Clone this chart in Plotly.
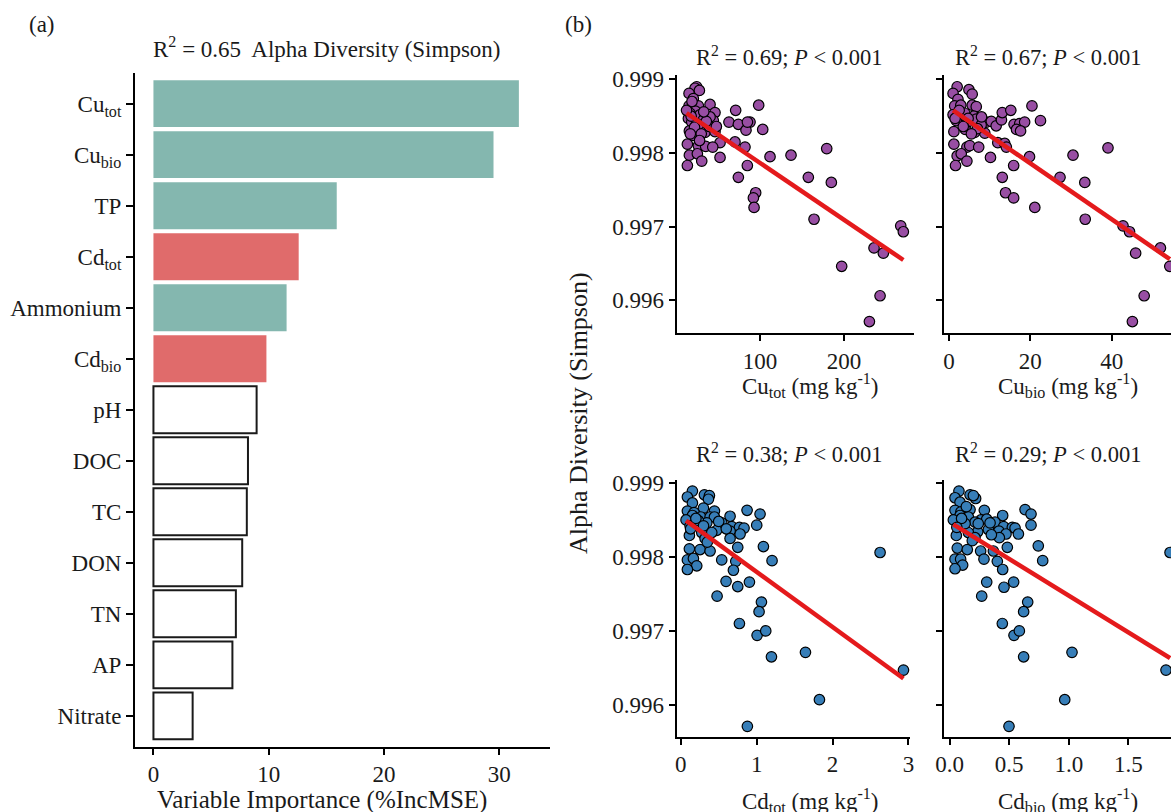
import numpy as np
import plotly.graph_objects as go

W, H = 1171, 812
FONT = "Liberation Serif"

# ---------------- (a) variable importance ----------------
variables = ["Cu<sub>tot</sub>", "Cu<sub>bio</sub>", "TP", "Cd<sub>tot</sub>", "Ammonium",
             "Cd<sub>bio</sub>", "pH", "DOC", "TC", "DON", "TN", "AP", "Nitrate"]
importance = [31.7, 29.5, 15.9, 12.6, 11.55, 9.8, 8.95, 8.2, 8.1, 7.7, 7.15, 6.85, 3.4]
groups = ["Cu", "Cu", "Cu", "Cd", "Cu", "Cd", "ns", "ns", "ns", "ns", "ns", "ns", "ns"]
group_fill = {"Cu": "#84B7AF", "Cd": "#E06B6B", "ns": "#FFFFFF"}
imp_ticks = [0, 10, 20, 30]

# ---------------- (b) scatter panels ----------------
cu_tot_x = [24.6, 22.6, 27.8, 15.5, 20.6, 15.5, 26.6, 40.5, 23.0, 16.7,
            28.6, 46.4, 14.7, 18.7, 32.5, 44.4, 24.6, 32.5, 15.9, 26.6,
            34.5, 46.4, 52.4, 13.5, 26.6, 35.3, 43.7, 15.9, 25.4, 30.6,
            13.5, 52.4, 20.6, 39.7, 71.0, 98.4, 63.0, 74.2, 88.1, 83.3,
            103.2, 70.2, 82.1, 111.9, 136.9, 179.4, 84.9, 74.2, 157.5, 184.9,
            94.8, 92.1, 92.9, 164.3, 267.5, 270.6, 235.7, 246.8, 197.2, 242.9,
            230.2, 40.5, 85.0, 18.0, 22.0, 30.0, 36.0, 12.5, 19.0, 33.0,
            28.0, 48.0, 17.0]
cu_tot_y = [0.99890, 0.99888, 0.99885, 0.99881, 0.99874, 0.99864, 0.99864, 0.99866, 0.99857, 0.99854,
            0.99852, 0.99855, 0.99847, 0.99842, 0.99845, 0.99844, 0.99840, 0.99838, 0.99830, 0.99833,
            0.99828, 0.99829, 0.99814, 0.99812, 0.99810, 0.99809, 0.99808, 0.99797, 0.99799, 0.99789,
            0.99783, 0.99794, 0.99824, 0.99836, 0.99858, 0.99865, 0.99842, 0.99839, 0.99842, 0.99831,
            0.99832, 0.99815, 0.99808, 0.99795, 0.99797, 0.99806, 0.99783, 0.99767, 0.99767, 0.99760,
            0.99746, 0.99739, 0.99726, 0.99710, 0.99701, 0.99693, 0.99671, 0.99664, 0.99646, 0.99606,
            0.99571, 0.99849, 0.99842, 0.99850, 0.99835, 0.99826, 0.99843, 0.99858, 0.99870, 0.99856,
            0.99817, 0.99836, 0.99826]

cu_bio_x = [2.0, 1.0, 4.9, 5.7, 2.2, 1.4, 2.9, 5.7, 6.7, 1.0,
            3.9, 6.1, 1.8, 4.3, 6.7, 1.2, 4.0, 6.3, 8.8, 9.2,
            10.4, 11.6, 12.9, 13.1, 15.2, 20.4, 22.5, 16.0, 17.4, 18.6,
            16.6, 17.6, 1.2, 4.4, 5.1, 7.3, 12.0, 13.7, 14.1, 2.0,
            3.0, 4.4, 1.6, 10.2, 19.8, 15.9, 13.1, 13.9, 15.9, 21.1,
            27.3, 30.5, 33.4, 39.1, 33.5, 42.8, 44.4, 45.9, 52.0, 54.3,
            48.0, 45.1, 4.7, 7.9, 2.5, 3.5, 1.5, 7.0, 5.5, 8.0]
cu_bio_y = [0.99890, 0.99881, 0.99886, 0.99880, 0.99873, 0.99864, 0.99865, 0.99865, 0.99863, 0.99852,
            0.99854, 0.99850, 0.99844, 0.99840, 0.99846, 0.99829, 0.99832, 0.99828, 0.99827, 0.99842,
            0.99843, 0.99837, 0.99845, 0.99855, 0.99858, 0.99864, 0.99844, 0.99839, 0.99840, 0.99842,
            0.99832, 0.99830, 0.99812, 0.99808, 0.99810, 0.99808, 0.99814, 0.99813, 0.99808, 0.99796,
            0.99799, 0.99789, 0.99783, 0.99794, 0.99795, 0.99783, 0.99767, 0.99746, 0.99739, 0.99726,
            0.99767, 0.99797, 0.99760, 0.99807, 0.99710, 0.99701, 0.99693, 0.99664, 0.99671, 0.99646,
            0.99606, 0.99571, 0.99847, 0.99838, 0.99858, 0.99836, 0.99847, 0.99833, 0.99826, 0.99849]

cd_tot_x = [0.154, 0.088, 0.312, 0.378, 0.365, 0.154, 0.299, 0.088, 0.176, 0.444,
            0.154, 0.264, 0.070, 0.387, 0.444, 0.650, 0.874, 1.045, 0.540, 0.343,
            0.123, 0.672, 0.773, 0.834, 1.001, 0.474, 0.277, 0.782, 0.650, 0.114,
            0.321, 0.650, 0.751, 1.089, 0.114, 0.255, 0.387, 0.540, 0.725, 0.088,
            0.167, 0.211, 0.088, 0.694, 1.203, 2.626, 0.597, 0.751, 0.905, 0.479,
            1.063, 1.032, 0.773, 1.006, 1.120, 1.195, 1.643, 1.827, 0.878, 2.934,
            0.233, 0.409, 0.20, 0.13, 0.30, 0.50, 0.60, 0.35]
cd_tot_y = [0.99889, 0.99881, 0.99884, 0.99883, 0.99878, 0.99873, 0.99866, 0.99862, 0.99860, 0.99862,
            0.99856, 0.99854, 0.99850, 0.99854, 0.99854, 0.99855, 0.99863, 0.99858, 0.99846, 0.99846,
            0.99842, 0.99841, 0.99840, 0.99839, 0.99843, 0.99836, 0.99833, 0.99831, 0.99835, 0.99829,
            0.99825, 0.99825, 0.99813, 0.99814, 0.99811, 0.99810, 0.99808, 0.99796, 0.99794, 0.99796,
            0.99798, 0.99788, 0.99783, 0.99782, 0.99795, 0.99806, 0.99767, 0.99760, 0.99766, 0.99747,
            0.99739, 0.99726, 0.99710, 0.99694, 0.99700, 0.99665, 0.99671, 0.99607, 0.99571, 0.99647,
            0.99849, 0.99833, 0.99852, 0.99838, 0.99842, 0.99848, 0.99838, 0.99820]

cd_bio_x = [0.078, 0.045, 0.171, 0.218, 0.199, 0.087, 0.171, 0.045, 0.095, 0.291,
            0.633, 0.683, 0.445, 0.087, 0.157, 0.031, 0.263, 0.311, 0.381, 0.213,
            0.453, 0.526, 0.549, 0.683, 0.325, 0.414, 0.473, 0.577, 0.235, 0.157,
            0.056, 0.213, 0.417, 0.484, 0.744, 0.064, 0.148, 0.260, 0.367, 0.288,
            0.400, 0.781, 0.045, 0.092, 0.109, 0.045, 0.445, 0.311, 0.537, 0.456,
            0.269, 0.655, 0.621, 0.442, 0.540, 0.585, 0.621, 1.027, 0.966, 0.498,
            1.816, 1.850, 0.129, 0.339, 0.10, 0.06, 0.14, 0.24, 0.35, 0.19]
cd_bio_y = [0.99889, 0.99880, 0.99884, 0.99879, 0.99883, 0.99874, 0.99864, 0.99863, 0.99861, 0.99863,
            0.99864, 0.99858, 0.99856, 0.99856, 0.99854, 0.99850, 0.99850, 0.99851, 0.99847, 0.99847,
            0.99841, 0.99840, 0.99839, 0.99843, 0.99837, 0.99835, 0.99831, 0.99831, 0.99834, 0.99833,
            0.99829, 0.99826, 0.99826, 0.99813, 0.99815, 0.99812, 0.99810, 0.99808, 0.99808, 0.99797,
            0.99794, 0.99795, 0.99797, 0.99797, 0.99789, 0.99784, 0.99783, 0.99766, 0.99766, 0.99759,
            0.99747, 0.99739, 0.99726, 0.99710, 0.99694, 0.99700, 0.99665, 0.99671, 0.99607, 0.99571,
            0.99647, 0.99806, 0.99845, 0.99846, 0.99852, 0.99840, 0.99868, 0.99845, 0.99830, 0.99822]

panel_titles = ["R<sup>2</sup> = 0.69; <i>P</i> < 0.001", "R<sup>2</sup> = 0.67; <i>P</i> < 0.001",
                "R<sup>2</sup> = 0.38; <i>P</i> < 0.001", "R<sup>2</sup> = 0.29; <i>P</i> < 0.001"]
x_titles = ["Cu<sub>tot</sub> (mg kg<sup>-1</sup>)", "Cu<sub>bio</sub> (mg kg<sup>-1</sup>)",
            "Cd<sub>tot</sub> (mg kg<sup>-1</sup>)", "Cd<sub>bio</sub> (mg kg<sup>-1</sup>)"]
y_ticks = [0.996, 0.997, 0.998, 0.999]
x_ticks = [[100, 200], [0, 20, 40], [0, 1, 2, 3], [0.0, 0.5, 1.0, 1.5]]
purple, blue, red = "#984EA3", "#377EB8", "#E41A1C"

# ---------------- layout helpers (pixel boxes) ----------------
def fx(px):
    return px / W

def fy(py):
    return 1 - py / H

fig = go.Figure()

tickfont = dict(family=FONT, size=23, color="#1a1a1a")
axis_common = dict(showline=True, linecolor="black", linewidth=2, ticks="outside",
                   ticklen=6, tickwidth=2, tickcolor="black", showgrid=False,
                   zeroline=False, tickfont=tickfont, automargin=False)

# Bar panel
line_w = [0 if g != "ns" else 2 for g in groups]
fig.add_trace(go.Bar(
    x=importance, y=variables, orientation="h", width=0.92,
    marker=dict(color=[group_fill[g] for g in groups],
                line=dict(color="#1a1a1a", width=line_w)),
    xaxis="x", yaxis="y", showlegend=False))

layout = dict(
    template="none",
    width=W, height=H, autosize=False,
    margin=dict(l=0, r=0, t=0, b=0, pad=0),
    paper_bgcolor="white", plot_bgcolor="white",
    font=dict(family=FONT, size=22, color="#1a1a1a"),
    showlegend=False,
    xaxis=dict(domain=[fx(135), fx(550)], range=[-1.6, 34.4], tickvals=imp_ticks,
               anchor="y", **axis_common),
    yaxis=dict(domain=[fy(746.5), fy(73)], type="category", categoryorder="array",
               categoryarray=variables, range=[len(variables) - 0.4, -0.6],
               anchor="x", ticklen=7, **{k: v for k, v in axis_common.items() if k != "ticklen"}),
)

panels = [
    dict(x=cu_tot_x, y=cu_tot_y, color=purple, xd=(676.7, 914), yd=(75, 333.3),
         xr=[0.8, 283.3], yr=[0.99555, 0.99906], ylab=True),
    dict(x=cu_bio_x, y=cu_bio_y, color=purple, xd=(944.3, 1171), yd=(75, 333.3),
         xr=[-1.16, 54.6], yr=[0.99555, 0.99906], ylab=False),
    dict(x=cd_tot_x, y=cd_tot_y, color=blue, xd=(676.7, 910), yd=(480, 736.7),
         xr=[-0.053, 3.02], yr=[0.99557, 0.99904], ylab=True),
    dict(x=cd_bio_x, y=cd_bio_y, color=blue, xd=(944.3, 1171), yd=(480, 736.7),
         xr=[-0.045, 1.858], yr=[0.99557, 0.99904], ylab=False),
]

for i, p in enumerate(panels):
    n = i + 2
    xa, ya = f"x{n}", f"y{n}"
    xs = np.array(p["x"], dtype=float)
    ys = np.array(p["y"], dtype=float)
    assert len(xs) == len(ys)
    fig.add_trace(go.Scatter(x=xs, y=ys, mode="markers", xaxis=xa, yaxis=ya,
                             marker=dict(size=10.5, color=p["color"],
                                         line=dict(color="black", width=1.2))))
    slope, intercept = np.polyfit(xs, ys, 1)
    fx_line = np.array([xs.min(), xs.max()])
    fig.add_trace(go.Scatter(x=fx_line, y=intercept + slope * fx_line, mode="lines",
                             xaxis=xa, yaxis=ya, line=dict(color=red, width=4.5)))
    layout[f"xaxis{n}"] = dict(domain=[fx(p["xd"][0]), fx(p["xd"][1])], range=p["xr"],
                               tickvals=x_ticks[i], anchor=ya, **axis_common)
    if i == 3:
        layout[f"xaxis{n}"]["tickformat"] = ".1f"
    layout[f"yaxis{n}"] = dict(domain=[fy(p["yd"][1]), fy(p["yd"][0])], range=p["yr"],
                               tickvals=y_ticks, tickformat=".3f", anchor=xa,
                               showticklabels=p["ylab"], **axis_common)

fig.update_layout(**layout)

def ann(text, x, y, size=22, angle=0):
    fig.add_annotation(text=text, x=fx(x), y=fy(y), xref="paper", yref="paper",
                       showarrow=False, xanchor="center", yanchor="middle",
                       textangle=angle, font=dict(family=FONT, size=size, color="#1a1a1a"))

ann("(a)", 42, 25, size=23)
ann("(b)", 578, 25, size=23)
ann("R<sup>2</sup> = 0.65  Alpha Diversity (Simpson)", 327, 47, size=23)
ann("Variable Importance (%IncMSE)", 322, 800, size=25)
ann("Alpha Diversity (Simpson)", 579, 413, size=26, angle=-90)
title_pos = [(789, 56), (1048, 56), (789, 453), (1048, 453)]
xtitle_pos = [(810, 385), (1068, 385), (810, 800), (1068, 800)]
for t, (x, y) in zip(panel_titles, title_pos):
    ann(t, x, y, size=22.5)
for t, (x, y) in zip(x_titles, xtitle_pos):
    ann(t, x, y, size=23)

fig.write_html("out.html", config={"displayModeBar": False},
               post_script="document.body.style.margin='0px';"
                           "document.body.style.overflow='hidden';")
